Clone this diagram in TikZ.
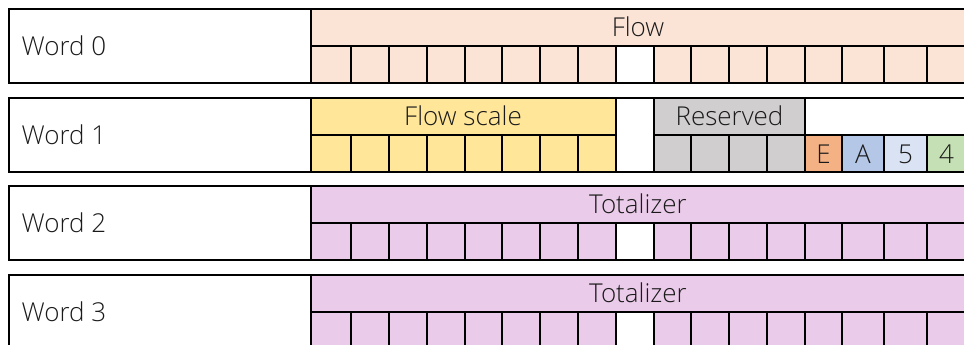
\documentclass[tikz,border=0pt]{standalone}
\usepackage{fontspec}
\setmainfont{Open Sans}[UprightFont=* Light]
\usetikzlibrary{calc}

\definecolor{flowfill}{HTML}{FBE3D6}
\definecolor{scalefill}{HTML}{FFE699}
\definecolor{resfill}{HTML}{D0CECE}
\definecolor{efill}{HTML}{F4B183}
\definecolor{afill}{HTML}{B4C7E7}
\definecolor{fivefill}{HTML}{DAE3F3}
\definecolor{fourfill}{HTML}{C5E0B4}
\definecolor{totfill}{HTML}{EBCBEA}
\definecolor{txt}{HTML}{1A1A1A}

\tikzset{
    lbl/.style={font=\fontsize{13}{15}\selectfont, text=txt, inner sep=0pt},
    wordlbl/.style={lbl, anchor=west}
}

\def\bitsL{351,389,427,465,502,540,578}
\def\bitsR{691,729,767,805,842,884,927}

\begin{document}
\begin{tikzpicture}[x=0.5pt, y=-0.5pt, line width=0.7pt]
        \useasboundingbox (0,0) rectangle (964,344);
        \clip (0,0) rectangle (964,344);

        % Word 0
        \fill[flowfill] (311,9) rectangle (966,83);
        \fill[white] (616,46) rectangle (654,83);
        \draw (9,9) rectangle (966,83);
        \draw (311,9) -- (311,83);
        \draw (311,46) -- (966,46);
        \foreach \x in \bitsL
            \draw (\x,46) -- (\x,83);
        \foreach \x in {616,654}
            \draw (\x,46) -- (\x,83);
        \foreach \x in \bitsR
            \draw (\x,46) -- (\x,83);
        \node[wordlbl] (word0) at (21,46) {Word 0};
        \node[lbl] (flow) at (638,27) {Flow};

        % Word 1
        \fill[scalefill] (311,98) rectangle (616,172);
        \fill[resfill] (654,98) rectangle (805,172);
        \fill[efill] (805,135) rectangle (842,172);
        \fill[afill] (842,135) rectangle (884,172);
        \fill[fivefill] (884,135) rectangle (927,172);
        \fill[fourfill] (927,135) rectangle (966,172);
        \draw (9,98) rectangle (966,172);
        \draw (311,98) -- (311,172);
        \draw (311,135) -- (616,135);
        \draw (654,135) -- (966,135);
        \foreach \x in {616,654,805}
            \draw (\x,98) -- (\x,172);
        \foreach \x in \bitsL
            \draw (\x,135) -- (\x,172);
        \foreach \x in {691,729,767,842,884,927}
            \draw (\x,135) -- (\x,172);
        \node[wordlbl] (word1) at (21,135) {Word 1};
        \node[lbl] (scale) at (463,116) {Flow scale};
        \node[lbl] (reserved) at (729.5,116) {Reserved};
        \node[lbl] (bitE) at (823.5,154) {E};
        \node[lbl] (bitA) at (863,154) {A};
        \node[lbl] (bit5) at (905.5,154) {5};
        \node[lbl] (bit4) at (946.5,154) {4};

        % Word 2, Word 3
        \foreach \w/\t in {2/186,3/275} {
            \fill[totfill] (311,\t) rectangle (966,\t+74);
            \fill[white] (616,\t+37) rectangle (654,\t+74);
            \draw (9,\t) rectangle (966,\t+74);
            \draw (311,\t) -- (311,\t+74);
            \draw (311,\t+37) -- (966,\t+37);
            \foreach \x in \bitsL
                \draw (\x,\t+37) -- (\x,\t+74);
            \foreach \x in {616,654}
                \draw (\x,\t+37) -- (\x,\t+74);
            \foreach \x in \bitsR
                \draw (\x,\t+37) -- (\x,\t+74);
            \node[wordlbl] (word\w) at (21,\t+37) {Word \w};
            \node[lbl] (total\w) at (638,\t+18) {Totalizer};
        }
\end{tikzpicture}
\end{document}
